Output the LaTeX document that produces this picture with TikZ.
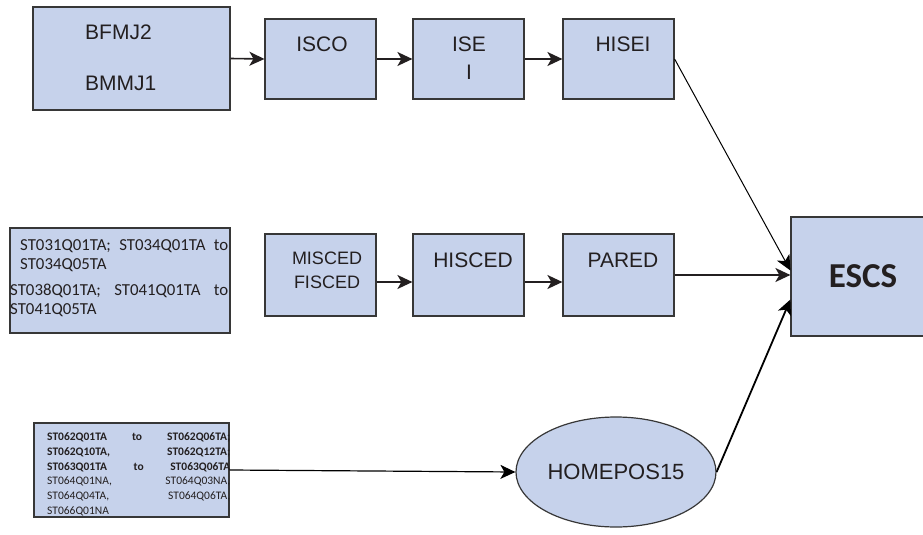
\documentclass[tikz,border=0pt]{standalone}
\usepackage{fontspec}
\setmainfont{Liberation Sans}
\newfontfamily\calfont{Carlito}
\usetikzlibrary{positioning,shapes.geometric,arrows.meta}
\definecolor{boxblue}{RGB}{198,210,235}
\definecolor{boxline}{RGB}{55,55,55}
\definecolor{txt}{RGB}{35,31,32}

\begin{document}
\begin{tikzpicture}[x=1pt,y=-1pt,>={Stealth[length=15pt,width=14pt,inset=4pt]},
  box/.style={draw=boxline,fill=boxblue,line width=1.2pt,inner sep=0pt},
  lbl/.style={font=\fontsize{21}{24}\selectfont,text=txt,inner sep=0pt}]
\useasboundingbox (0,0) rectangle (923,535);
% top row
\node[box,minimum width=197pt,minimum height=103pt] (bmj) at (131.5,58.5) {};
\node[box,minimum width=111pt,minimum height=80pt] (isco) at (320.5,59) {};
\node[box,minimum width=111pt,minimum height=80pt] (ise) at (468.5,59) {};
\node[box,minimum width=111pt,minimum height=80pt] (hisei) at (618.5,59) {};
\node[lbl,anchor=west] (bfmj) at (85,32) {BFMJ2};
\node[lbl,anchor=west] (bmmj) at (85,83) {BMMJ1};
\node[lbl] (iscotxt) at (322,44) {ISCO};
\node[lbl] (isetxt) at (469,44) {ISE};
\node[lbl] (isetxtb) at (469,72) {I};
\node[lbl] (hiseitxt) at (623,44) {HISEI};
% middle row
\node[box,minimum width=220pt,minimum height=105pt] (stedu) at (120,280.5) {};
\node[anchor=north west,inner sep=0pt,text width=218pt,align=left,text=txt,
  font=\calfont\fontsize{16.8}{19}\selectfont] (stedutxt) at (10,239)
  {\hspace*{10pt}ST031Q01TA;\hfill ST034Q01TA\hfill to\\
   \hspace*{10pt}ST034Q05TA\\[7pt]
   ST038Q01TA;\hfill ST041Q01TA\hfill to\\
   ST041Q05TA};
\node[box,minimum width=111pt,minimum height=82pt] (misced) at (320.5,275) {};
\node[box,minimum width=111pt,minimum height=82pt] (hisced) at (468.5,275) {};
\node[box,minimum width=111pt,minimum height=82pt] (pared) at (618.5,275) {};
\node[lbl,font=\fontsize{18}{20}\selectfont] (miscedtxt) at (327,258) {MISCED};
\node[lbl,font=\fontsize{18}{20}\selectfont] (fiscedtxt) at (327,282) {FISCED};
\node[lbl] (hiscedtxt) at (473,260) {HISCED};
\node[lbl] (paredtxt) at (623,260) {PARED};
\node[box,minimum width=144pt,minimum height=119pt,text=txt,
  font=\calfont\bfseries\fontsize{35}{40}\selectfont] (escs) at (863,276.5) {ESCS};
% bottom row
\node[box,minimum width=195pt,minimum height=94pt] (homebox) at (131.5,470) {};
\node[anchor=north west,inner sep=0pt,text width=183pt,align=left,text=txt,
  font=\calfont\fontsize{11.5}{14.8}\selectfont] (hometxt) at (47,432.5)
  {\textbf{ST062Q01TA\hfill to\hfill ST062Q06TA;}\\
   \textbf{ST062Q10TA,\hfill ST062Q12TA;}\\
   \textbf{ST063Q01TA\hfill to\hfill ST063Q06TA}\\
   ST064Q01NA,\hfill ST064Q03NA,\\
   ST064Q04TA,\hfill ST064Q06TA,\\
   ST066Q01NA};
\node[box,ellipse,minimum width=200pt,minimum height=110pt,text=txt,
  font=\fontsize{22}{24}\selectfont] (homepos) at (616,472) {HOMEPOS15};
% arrows
\draw[->,line width=1.6pt,draw=txt] (bmj.east) -- (isco.west);
\draw[->,line width=1.6pt,draw=txt] (isco) -- (ise);
\draw[->,line width=1.6pt,draw=txt] (ise) -- (hisei);
\draw[->,line width=1.6pt,draw=txt] ([yshift=-7pt]misced.east) -- ([yshift=-7pt]hisced.west);
\draw[->,line width=1.6pt,draw=txt] ([yshift=-7pt]hisced.east) -- ([yshift=-7pt]pared.west);
\draw[->,line width=1.6pt,draw=txt] (pared.east) -- (pared.east -| escs.west);
\draw[->,line width=1pt] (hisei.east) -- ([yshift=6pt]escs.west);
\draw[->,line width=1.2pt] (homebox.east) -- (homepos.west);
\draw[->,line width=1.8pt] (homepos.east) -- ([yshift=-23pt]escs.west);
\end{tikzpicture}
\end{document}
